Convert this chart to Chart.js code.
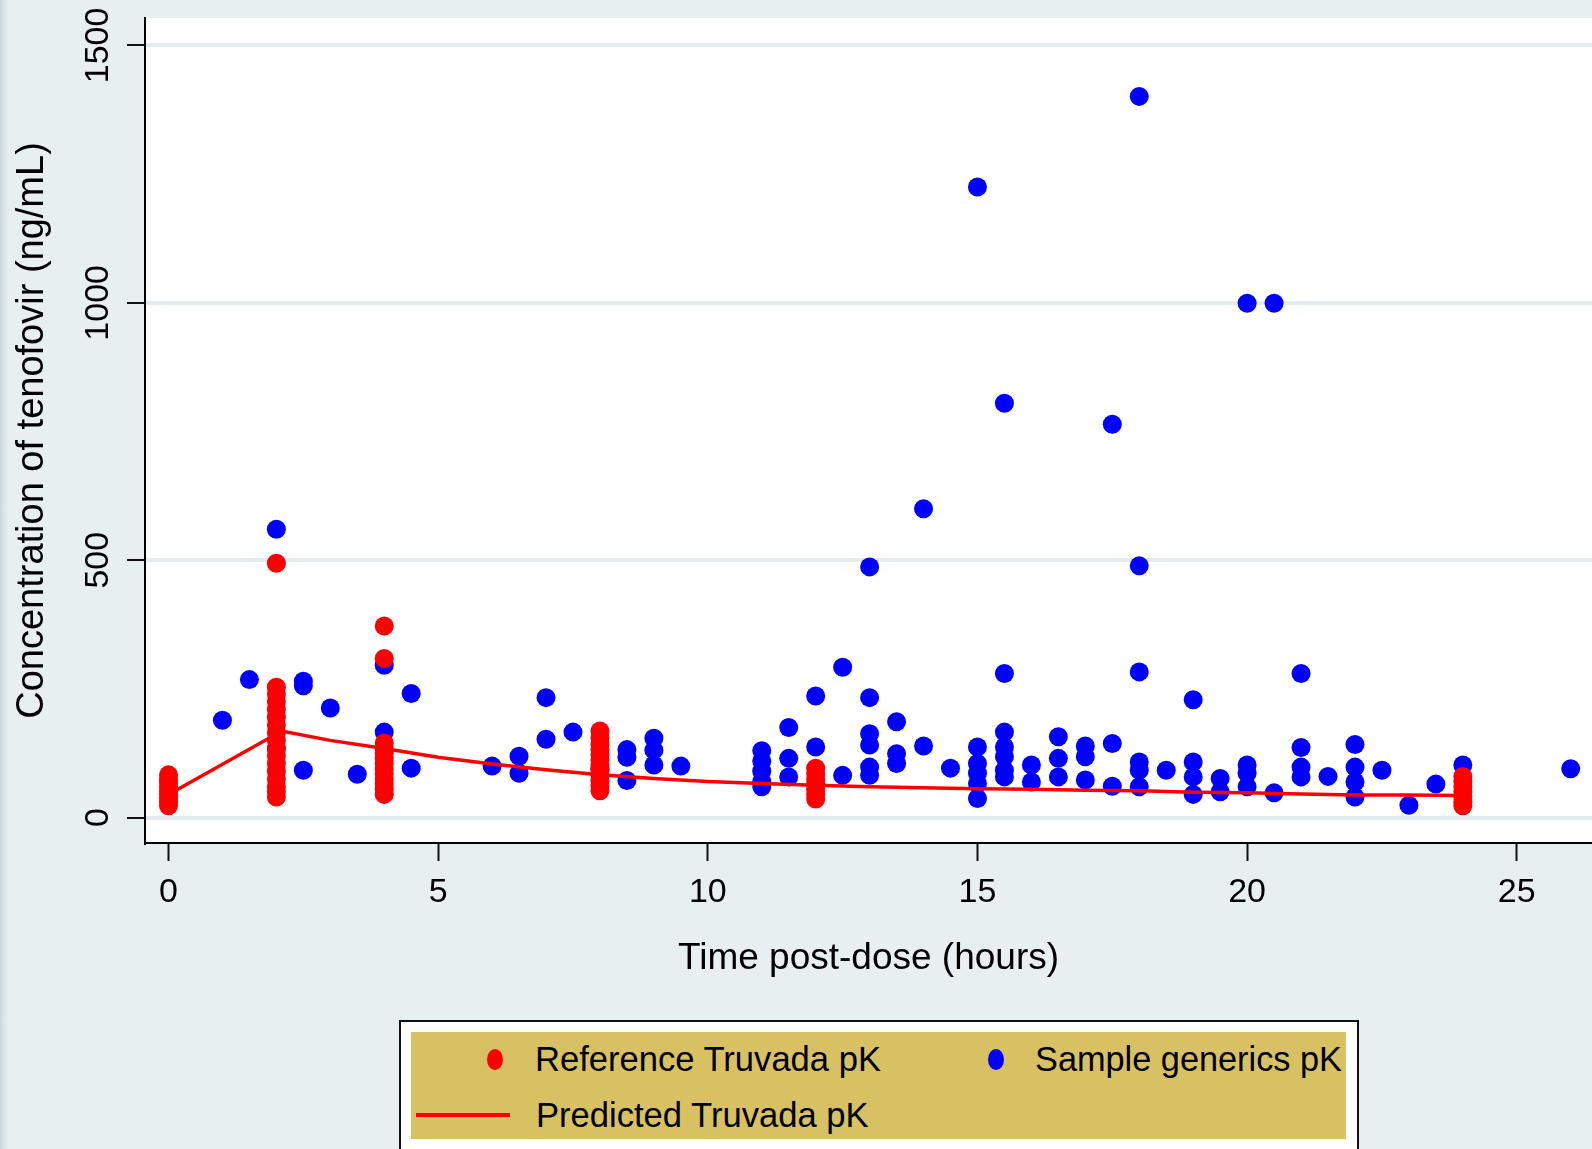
<!DOCTYPE html>
<html>
<head>
<meta charset="utf-8">
<script src="https://cdn.jsdelivr.net/npm/chart.js@4.4.1/dist/chart.umd.min.js"></script>
<style>
  html, body { margin:0; padding:0; width:1592px; height:1149px; overflow:hidden; }
  body {
    background: linear-gradient(to right, #c8d6df 0px, #dfe8ec 5px, #e8eff1 9px);
    font-family: "Liberation Sans", Arial, sans-serif;
    position: relative;
  }
  #chartBox { position:absolute; left:0; top:0; width:1592px; height:1149px; }
  #legend {
    position:absolute; left:399px; top:1020px; width:960px; height:160px;
    background:#fff; border:2px solid #111; box-sizing:border-box;
  }
  #legendFill {
    position:absolute; left:411px; top:1032px; width:935px; height:107px;
    background:#d8c162;
  }
  .lg-dot { position:absolute; width:16px; height:21px; border-radius:50%; }
  .lg-line { position:absolute; height:4px; background:#f00; }
  .lg-txt { position:absolute; font-size:34.6px; line-height:35px; color:#000; white-space:nowrap; }
</style>
</head>
<body>
<div id="chartBox"><canvas id="pkChart" width="1592" height="1149"></canvas></div>

<div id="legend"></div>
<div id="legendFill"></div>
<div class="lg-dot" style="left:487px; top:1049px; background:#f00;"></div>
<div class="lg-txt" id="lgRef" style="left:535px; top:1042px;"></div>
<div class="lg-dot" style="left:988px; top:1049px; background:#00f;"></div>
<div class="lg-txt" id="lgGen" style="left:1035px; top:1042px; font-size:34.3px;"></div>
<div class="lg-line" style="left:416px; top:1113px; width:94px;"></div>
<div class="lg-txt" id="lgPred" style="left:536px; top:1098px;"></div>

<script>
// ---------- data
// Reference Truvada pK (red dots)
const refTime = [
  0,0,0,0,0,0,0,0,0,
  2,2,2,2,2,2,2,2,2,2,2,2,2,2,2,2,2,
  4,4,4,4,4,4,4,4,4,4,4,4,4,
  8,8,8,8,8,8,8,8,8,8,8,8,
  12,12,12,12,12,12,12,
  24,24,24,24,24,24,24
];
const refConc = [
  23,30,38,45,52,60,68,75,83,
  40,50,60,75,90,105,120,135,150,165,180,195,210,225,240,253,494,
  45,55,65,75,85,95,105,115,125,135,145,309,372,
  52,62,72,82,92,102,112,122,132,142,155,168,
  36,45,55,65,75,85,96,
  23,30,40,50,60,70,80
];

// Sample generics pK (blue dots)
const genTime = [
  1, 1.5, 2,2, 2.5,2.5,2.5, 3, 3.5, 4,4, 4.5,4.5,
  6, 6.5,6.5, 7,7, 7.5, 8, 8.5,8.5,8.5, 9,9,9, 9.5,
  11,11,11,11,11, 11.5,11.5,11.5, 12,12, 12.5,12.5,
  13,13,13,13,13,13, 13.5,13.5,13.5, 14,14, 14.5,
  15,15,15,15,15,15, 15.5,15.5,15.5,15.5,15.5,15.5,15.5, 16,16,
  16.5,16.5,16.5, 17,17,17, 17.5,17.5,17.5, 18,18,18,18,18,18, 18.5,
  19,19,19,19, 19.5,19.5, 20,20,20,20, 20.5,20.5, 21,21,21,21, 21.5,
  22,22,22,22, 22.5, 23, 23.5, 24, 26
];
const genConc = [
  189, 268, 560,134, 265,256,92, 213, 84, 296,166, 241,96,
  100, 119,86, 233,152, 166, 95, 132,117,72, 154,131,102, 100,
  130,110,90,70,60, 175,115,79, 236,137, 292,82,
  487,233,163,141,98,82, 186,124,105, 600,139, 96,
  1225,137,105,86,66,37, 805,280,166,137,118,92,79, 102,69,
  157,115,79, 139,118,73, 764,144,61, 1401,489,283,108,92,60, 92,
  229,108,79,45, 76,50, 999,102,86,60, 999,48, 280,136,98,79, 80,
  142,98,69,40, 92, 24, 65, 102, 95
];

// Predicted Truvada pK (red line)
const predTime = [0, 2.1, 3, 4, 5, 6, 7, 8, 9, 10, 11, 12, 13, 14, 15, 16, 17, 18, 19, 20, 21, 22, 23, 24];
const predConc = [45, 168, 150, 134, 117, 104, 93, 83, 76, 70, 66, 63, 60, 58, 56, 55, 53, 52, 49, 48, 46, 44, 44, 43];

// axes
const xTicks = [0, 5, 10, 15, 20, 25];
const yTicks = [0, 500, 1000, 1500];

const seriesNames = ['Reference Truvada pK', 'Sample generics pK', 'Predicted Truvada pK'];
const axisTitles = { x: 'Time post-dose (hours)', y: 'Concentration of tenofovir (ng/mL)' };

// ---------- build
const pts = (xs, ys) => xs.map((x, i) => ({ x: x, y: ys[i] }));
const FONT = '"Liberation Sans", Arial, sans-serif';

document.getElementById('lgRef').textContent = seriesNames[0];
document.getElementById('lgGen').textContent = seriesNames[1];
document.getElementById('lgPred').textContent = seriesNames[2];

// fondo blanco del área de trazado
const plotBg = {
  id: 'plotBg',
  beforeDraw(chart) {
    const { ctx, chartArea: a } = chart;
    ctx.save();
    ctx.fillStyle = '#ffffff';
    ctx.fillRect(a.left, a.top, a.right - a.left, a.bottom - a.top);
    ctx.restore();
  }
};

// etiquetas del eje y giradas 90°
const yTickLabels = {
  id: 'yTickLabels',
  afterDraw(chart) {
    const { ctx } = chart;
    const y = chart.scales.y;
    ctx.save();
    ctx.font = '34px ' + FONT;
    ctx.fillStyle = '#000';
    ctx.textAlign = 'center';
    ctx.textBaseline = 'alphabetic';
    yTicks.forEach(v => {
      ctx.save();
      ctx.translate(108, y.getPixelForValue(v));
      ctx.rotate(-Math.PI / 2);
      ctx.fillText(String(v), 0, 0);
      ctx.restore();
    });
    ctx.restore();
  }
};

new Chart(document.getElementById('pkChart'), {
  type: 'scatter',
  data: {
    datasets: [
      {
        type: 'line',
        label: seriesNames[2],
        data: pts(predTime, predConc),
        borderColor: '#ff0000',
        borderWidth: 3.5,
        pointRadius: 0,
        fill: false,
        tension: 0,
        order: 0
      },
      {
        label: seriesNames[0],
        data: pts(refTime, refConc),
        backgroundColor: '#ff0000',
        borderColor: '#ff0000',
        borderWidth: 0,
        pointRadius: 9.5,
        order: 1
      },
      {
        label: seriesNames[1],
        data: pts(genTime, genConc),
        backgroundColor: '#0000ff',
        borderColor: '#0000ff',
        borderWidth: 0,
        pointRadius: 9.5,
        order: 2
      }
    ]
  },
  options: {
    responsive: false,
    animation: false,
    events: [],
    layout: { autoPadding: false, padding: { top: 18, right: 0, bottom: 0, left: 0 } },
    plugins: { legend: { display: false }, tooltip: { enabled: false } },
    scales: {
      x: {
        type: 'linear',
        min: -0.436,
        max: 26.395,
        afterFit: s => { s.height = 306; s.paddingLeft = 0; s.paddingRight = 0; },
        afterBuildTicks: s => { s.ticks = xTicks.map(v => ({ value: v })); },
        border: { display: true, color: '#000', width: 2 },
        grid: { drawOnChartArea: false, drawTicks: true, tickLength: 18, tickColor: '#111', tickWidth: 2 },
        ticks: { color: '#000', font: { family: FONT, size: 34 }, padding: 11, maxRotation: 0, minRotation: 0 },
        title: { display: true, text: axisTitles.x, color: '#000', font: { family: FONT, size: 37 }, padding: { top: 0, bottom: 168 } }
      },
      y: {
        type: 'linear',
        min: -49.4,
        max: 1553.3,
        afterFit: s => { s.width = 145; s.paddingTop = 0; s.paddingBottom = 0; },
        afterBuildTicks: s => { s.ticks = yTicks.map(v => ({ value: v })); },
        border: { display: true, color: '#000', width: 2 },
        grid: { color: '#e3ecef', lineWidth: 4, drawTicks: true, tickLength: 18, tickColor: '#111', tickWidth: 2 },
        ticks: { display: false },
        title: { display: true, text: axisTitles.y, color: '#000', font: { family: FONT, size: 38 }, padding: { top: 10, bottom: 0 } }
      }
    }
  },
  plugins: [plotBg, yTickLabels]
});
</script>
</body>
</html>
